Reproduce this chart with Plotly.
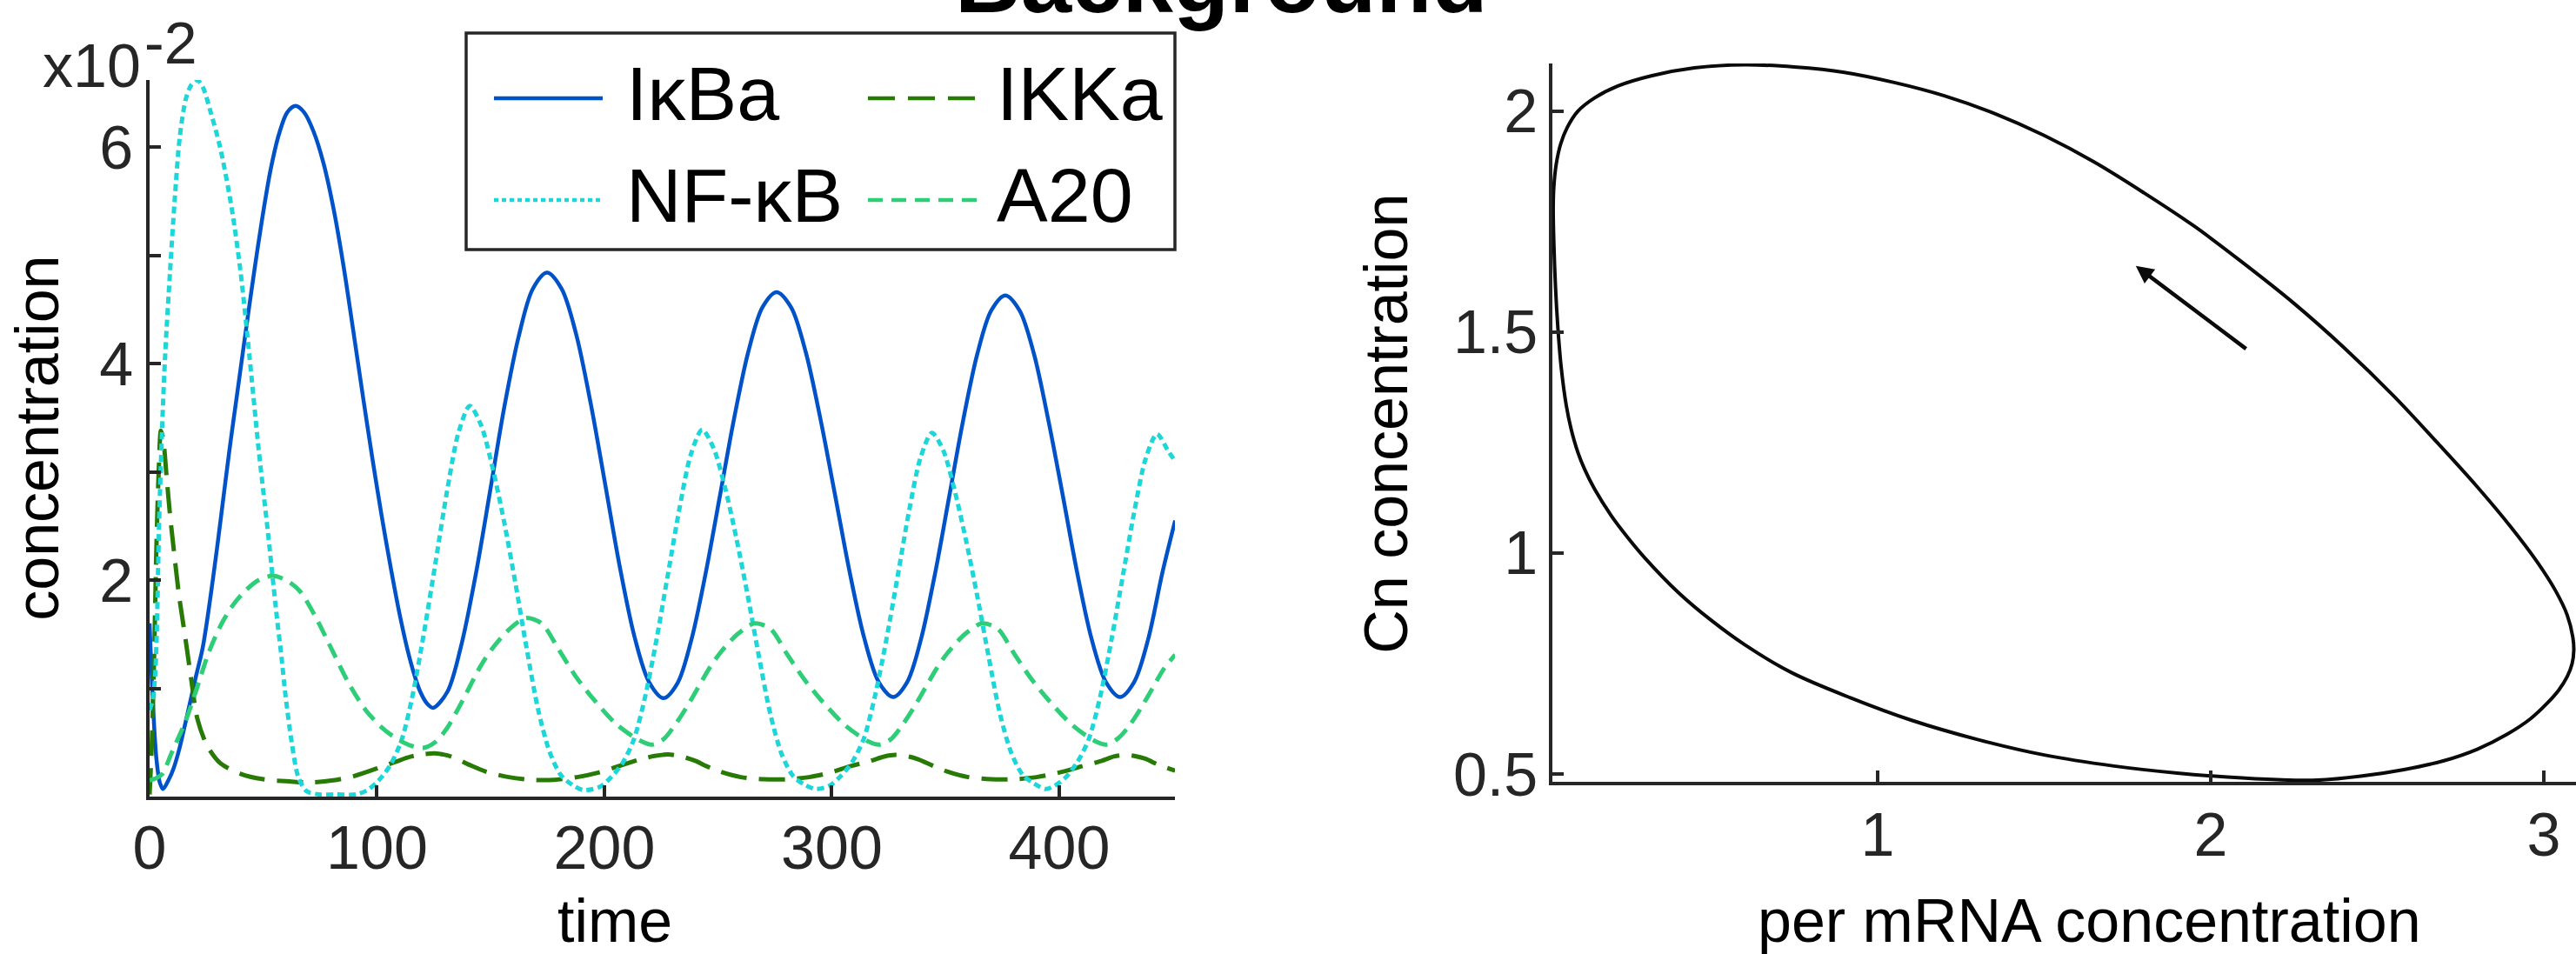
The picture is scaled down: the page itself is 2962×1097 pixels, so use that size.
import plotly.graph_objects as go

# ---------------- data: left panel (time courses, units of 1e-2) ----------------
t_ikba = [0, 1.5, 3, 4.5, 5.9, 8.5, 10.7, 13.2, 16.5, 20.5, 23.4, 27.8, 31.5, 35.1, 38.7, 42.3, 46, 49.6, 53.3, 56.9, 60.5, 64.2,
          68, 72, 76.5, 81, 85.3, 89.6, 93.8, 98, 102, 106, 110, 113.5, 116.5, 119, 122, 124.7,
          131, 137.2, 143.5, 149.8, 156, 162.3, 168.5, 174.8,
          181.2, 187.6, 194, 200.4, 206.8, 213.2, 219.6, 226,
          232.2, 238.4, 244.6, 250.9, 257.1, 263.3, 269.5, 275.7,
          282.1, 288.5, 294.9, 301.4, 307.8, 314.2, 320.6, 327,
          333.2, 339.3, 345.5, 351.7, 357.8, 364, 370.1, 376.3,
          382.6, 388.9, 395.2, 401.6, 407.9, 414.2, 420.5, 426.8,
          433, 439.2, 445.4, 451]
v_ikba = [1.6, 0.85, 0.35, 0.13, 0.07, 0.16, 0.27, 0.45, 0.75, 1.12, 1.38, 2.0, 2.6, 3.2, 3.75, 4.3, 4.85, 5.35, 5.8, 6.12, 6.32, 6.38,
          6.32, 6.15, 5.85, 5.42, 4.9, 4.3, 3.7, 3.12, 2.6, 2.12, 1.68, 1.35, 1.12, 0.97, 0.86, 0.82,
          0.97, 1.41, 2.06, 2.83, 3.6, 4.25, 4.69, 4.84,
          4.69, 4.27, 3.63, 2.88, 2.12, 1.48, 1.06, 0.91,
          1.05, 1.46, 2.07, 2.79, 3.5, 4.11, 4.52, 4.66,
          4.52, 4.11, 3.5, 2.79, 2.08, 1.47, 1.06, 0.92,
          1.06, 1.46, 2.07, 2.78, 3.48, 4.09, 4.49, 4.63,
          4.49, 4.09, 3.48, 2.78, 2.07, 1.46, 1.06, 0.92,
          1.06, 1.46, 2.07, 2.55]

t_nfkb = [0, 1.2, 2.3, 3.1, 4.2, 5.5, 6.9, 9, 11, 13.3, 16, 18.5, 21, 23.5, 26.5, 31, 36, 40, 44, 48, 52, 54, 56, 57.8, 59.8,
          62.5, 65.4, 69, 74.5, 82, 90.8,
          95.8, 100.8, 105.8, 110.8, 115.8, 120.8, 125.8, 130.8, 135.8, 140.8, 145.8, 150.8, 155.8, 160.8, 165.8, 170.8,
          175.8, 180.8, 185.8, 190.8,
          198, 203, 208, 213, 218, 223, 228, 233, 238, 243, 248, 253, 258, 263, 268, 273, 278, 283, 288, 293,
          299, 304, 309, 314, 319, 324, 329, 334, 339, 344, 349, 354, 359, 364, 369, 374, 379, 384, 389, 394,
          398, 403, 408, 413, 418, 423, 428, 433, 438, 443, 448, 451]
v_nfkb = [0.8, 0.88, 1.07, 1.47, 2.54, 3.4, 4.1, 4.85, 5.5, 6.1, 6.45, 6.58, 6.62, 6.55, 6.35, 6.0, 5.45, 4.85, 4.05, 3.2, 2.45, 2.05, 1.65, 1.33, 0.93,
          0.5, 0.18, 0.05, 0.02, 0.02, 0.02,
          0.06, 0.15, 0.29, 0.52, 0.95, 1.53, 2.17, 2.82, 3.36, 3.61, 3.43, 3.04, 2.55, 1.98, 1.37, 0.81,
          0.42, 0.2, 0.11, 0.06,
          0.09, 0.18, 0.31, 0.53, 0.93, 1.46, 2.06, 2.66, 3.16, 3.39, 3.22, 2.86, 2.39, 1.86, 1.29, 0.76, 0.39, 0.19, 0.11, 0.07,
          0.1, 0.19, 0.32, 0.53, 0.93, 1.45, 2.04, 2.64, 3.13, 3.36, 3.2, 2.83, 2.37, 1.85, 1.29, 0.76, 0.4, 0.2, 0.12, 0.07,
          0.1, 0.18, 0.32, 0.53, 0.92, 1.45, 2.04, 2.63, 3.12, 3.35, 3.19, 3.1]

t_ikka = [0, 1, 2, 3, 4, 5, 6, 7.5, 9, 10.7, 13, 15.7, 18.4, 21, 25.3, 31, 40, 50, 61.6, 70.8, 80.8, 90, 100, 108, 115, 120,
          125.4, 131, 136, 141, 148, 158, 168, 178, 188, 197, 206, 215, 222, 228, 234, 240, 245, 251, 260, 270, 280,
          290, 299, 308, 317, 323, 328, 334, 338, 345, 351, 360, 370, 380, 390, 399.5, 410, 418.7, 424, 428.7, 433,
          437.8, 444, 451]
v_ikka = [0.02, 0.5, 1.3, 2.3, 3.0, 3.38, 3.3, 2.95, 2.6, 2.27, 1.85, 1.47, 1.07, 0.72, 0.47, 0.31, 0.21, 0.16, 0.14, 0.13, 0.15, 0.19, 0.26, 0.32, 0.37, 0.39,
          0.4, 0.38, 0.34, 0.29, 0.23, 0.18, 0.155, 0.155, 0.18, 0.22, 0.28, 0.34, 0.375, 0.39, 0.37, 0.33, 0.28, 0.23, 0.18, 0.16, 0.16,
          0.18, 0.22, 0.28, 0.33, 0.37, 0.385, 0.37, 0.345, 0.28, 0.23, 0.18, 0.16, 0.16, 0.18, 0.22, 0.28, 0.33, 0.37, 0.385, 0.375,
          0.35, 0.29, 0.24]

t_a20 = [0, 3, 5.6, 10, 15.7, 20, 26, 31, 36, 42, 48, 54, 60, 66, 73, 80.8, 88, 95, 102, 109, 115, 120.4,
         125.4, 130.4, 135.4, 140.4, 145.4, 150.4, 157.9, 165.4, 172.4, 179.9, 187.4, 195.2, 205.2, 215.4, 221,
         226, 231, 236, 241, 246, 251, 258.5, 266, 273, 280.5, 288, 295.8, 305.8, 316, 321,
         326, 331, 336, 341, 346, 351, 358.5, 366, 373, 380.5, 388, 395.8, 405.8, 416, 421,
         426, 431, 436, 441, 446, 451]
v_a20 = [0.15, 0.17, 0.21, 0.42, 0.69, 0.95, 1.33, 1.57, 1.75, 1.9, 2.0, 2.04, 2.0, 1.9, 1.66, 1.33, 1.03, 0.8, 0.64, 0.53, 0.47, 0.45,
         0.5, 0.62, 0.8, 1.0, 1.2, 1.36, 1.54, 1.65, 1.6, 1.36, 1.11, 0.9, 0.67, 0.52, 0.48,
         0.53, 0.66, 0.82, 1.0, 1.18, 1.33, 1.5, 1.6, 1.55, 1.31, 1.08, 0.88, 0.66, 0.51, 0.48,
         0.53, 0.66, 0.82, 1.0, 1.18, 1.33, 1.5, 1.6, 1.55, 1.31, 1.08, 0.88, 0.66, 0.51, 0.48,
         0.54, 0.66, 0.82, 1.0, 1.18, 1.31]

series_names = ["IκBa", "IKKa", "NF-κB", "A20"]
x_ticks_left = [0, 100, 200, 300, 400]
y_ticks_left = [0, 1, 2, 3, 4, 5, 6]
y_ticktext_left = ["", "", "2", "", "4", "", "6"]

# ---------------- data: right panel (limit cycle, path starts on the straight upper-right branch) ----------------
per_mrna = [2.25, 2.4, 2.55, 2.68, 2.8, 2.9, 2.98, 3.035, 3.07, 3.087, 3.09, 3.085, 3.07, 3.045, 3.01, 2.96, 2.89,
            2.8, 2.7, 2.58, 2.45, 2.32, 2.2, 2.05, 1.9, 1.71, 1.5, 1.3, 1.1, 0.92, 0.74, 0.6, 0.5, 0.4, 0.3, 0.25,
            0.2, 0.15, 0.12, 0.1, 0.08, 0.065, 0.05, 0.04, 0.033, 0.028, 0.026, 0.028, 0.035, 0.048, 0.068, 0.1,
            0.15, 0.22, 0.32, 0.45, 0.6, 0.75, 0.9, 1.05, 1.2, 1.35, 1.5, 1.65, 1.8, 1.95, 2.1, 2.25]
cn_conc = [1.565, 1.465, 1.355, 1.25, 1.15, 1.06, 0.98, 0.915, 0.86, 0.81, 0.78, 0.75, 0.72, 0.69, 0.66, 0.625, 0.59,
           0.556, 0.53, 0.51, 0.495, 0.486, 0.487, 0.493, 0.502, 0.518, 0.543, 0.578, 0.622, 0.672, 0.73, 0.793, 0.848, 0.912, 0.99, 1.035,
           1.085, 1.145, 1.19, 1.228, 1.28, 1.335, 1.42, 1.51, 1.6, 1.7, 1.78, 1.83, 1.88, 1.925, 1.963, 2.0,
           2.03, 2.057, 2.08, 2.098, 2.105, 2.1, 2.088, 2.065, 2.035, 1.995, 1.945, 1.885, 1.815, 1.74, 1.655, 1.565]
arrow_tail = [2.11, 1.46]
arrow_head = [1.775, 1.65]
x_ticks_right = [1, 2, 3]
y_ticks_right = [0.5, 1, 1.5, 2]

# ---------------- styling ----------------
W, H = 2962, 1097
FONT = "Liberation Sans, Arial, sans-serif"
AX = "#262626"
C_IKBA = "rgb(0,82,200)"
C_NFKB = "rgb(28,214,216)"
C_IKKA = "rgb(40,122,6)"
C_A20 = "rgb(46,206,120)"


def px(x):
    return x / W


def py(y):
    return 1 - y / H


fig = go.Figure()
fig.add_trace(go.Scatter(x=t_ikba, y=v_ikba, name=series_names[0], mode="lines",
                         line=dict(color=C_IKBA, width=4.5, shape="spline", smoothing=0.9)))
fig.add_trace(go.Scatter(x=t_ikka, y=v_ikka, name=series_names[1], mode="lines",
                         line=dict(color=C_IKKA, width=5, dash="30px,14px", shape="spline", smoothing=0.8)))
fig.add_trace(go.Scatter(x=t_nfkb, y=v_nfkb, name=series_names[2], mode="lines",
                         line=dict(color=C_NFKB, width=5, dash="8px,5px", shape="spline", smoothing=0.8)))
fig.add_trace(go.Scatter(x=t_a20, y=v_a20, name=series_names[3], mode="lines",
                         line=dict(color=C_A20, width=5, dash="18px,10px", shape="spline", smoothing=0.8)))
fig.add_trace(go.Scatter(x=per_mrna, y=cn_conc, mode="lines", xaxis="x2", yaxis="y2",
                         line=dict(color="#0a0a0a", width=4, shape="spline", smoothing=1.0), showlegend=False))

axis_common = dict(showline=True, linewidth=3.5, linecolor=AX, ticks="inside", ticklen=13, tickwidth=3.5,
                   tickcolor=AX, showgrid=False, zeroline=False, automargin=False,
                   tickfont=dict(family=FONT, size=70, color=AX))

fig.update_layout(
    width=W, height=H, margin=dict(l=0, r=0, t=0, b=0, pad=0, autoexpand=False),
    paper_bgcolor="white", plot_bgcolor="white", showlegend=False,
    font=dict(family=FONT, color="black"),
    xaxis=dict(domain=[px(172), px(1351)], range=[0, 450.9], anchor="y", tickvals=x_ticks_left,
               ticklabelstandoff=-5, **axis_common),
    yaxis=dict(domain=[py(916), py(92)], range=[0, 6.62], anchor="x", tickvals=y_ticks_left,
               ticktext=y_ticktext_left, ticklabelstandoff=1, **axis_common),
    xaxis2=dict(domain=[px(1785), 1.0], range=[0.0235, 3.0966], anchor="y2", tickvals=x_ticks_right,
                ticklabelstandoff=-3, **axis_common),
    yaxis2=dict(domain=[py(899), py(73)], range=[0.4823, 2.108], anchor="x2", tickvals=y_ticks_right,
                ticklabelstandoff=-1, **axis_common),
)

ann = []


def text(t, x, y, size, xanchor="center", angle=0, bold=False, color="black"):
    ann.append(dict(text=("<b>%s</b>" % t) if bold else t, x=px(x), y=py(y), xref="paper", yref="paper",
                    showarrow=False, xanchor=xanchor, yanchor="middle", textangle=angle,
                    font=dict(family=FONT, size=size, color=color)))


text("Background", 1404, 14 - 0.3465 * 105, 105, bold=True)
text("x10", 47, 100 - 0.3465 * 70, 70, xanchor="left", color=AX)
text("-2", 164, 73 - 0.3465 * 68, 68, xanchor="left", color=AX)
text("time", 707, 1083 - 0.3465 * 70, 70)
text("concentration", 67 - 0.3465 * 70, 504, 70, angle=-90)
text("per mRNA concentration", 2402, 1083 - 0.3465 * 70, 70)
text("Cn concentration", 1618 - 0.3465 * 70, 487, 70, angle=-90)

# legend (drawn manually, two columns)
text(series_names[0], 718, 107, 88, xanchor="left")
text(series_names[1], 1144, 107, 88, xanchor="left")
text(series_names[2], 718, 224, 88, xanchor="left")
text(series_names[3], 1144, 224, 88, xanchor="left")

# arrow on limit cycle
ann.append(dict(x=arrow_head[0], y=arrow_head[1], ax=arrow_tail[0], ay=arrow_tail[1], xref="x2", yref="y2",
                axref="x2", ayref="y2", text="", showarrow=True, arrowhead=2, arrowsize=0.9, arrowwidth=4.5,
                arrowcolor="#0a0a0a", standoff=0, startstandoff=0))

shapes = [
    dict(type="rect", xref="paper", yref="paper", x0=px(536), x1=px(1351), y0=py(287), y1=py(38),
         line=dict(color=AX, width=3.5), fillcolor="white", layer="above"),
    dict(type="line", xref="paper", yref="paper", x0=px(568), x1=px(693), y0=py(113), y1=py(113),
         line=dict(color=C_IKBA, width=4.5)),
    dict(type="line", xref="paper", yref="paper", x0=px(998), x1=px(1122), y0=py(113), y1=py(113),
         line=dict(color=C_IKKA, width=4.5, dash="31px,15px")),
    dict(type="line", xref="paper", yref="paper", x0=px(568), x1=px(693), y0=py(230), y1=py(230),
         line=dict(color=C_NFKB, width=4.5, dash="5px,4px")),
    dict(type="line", xref="paper", yref="paper", x0=px(998), x1=px(1125), y0=py(230), y1=py(230),
         line=dict(color=C_A20, width=4.5, dash="17px,10px")),
]
fig.update_layout(annotations=ann, shapes=shapes)

fig.write_html("out.html")
